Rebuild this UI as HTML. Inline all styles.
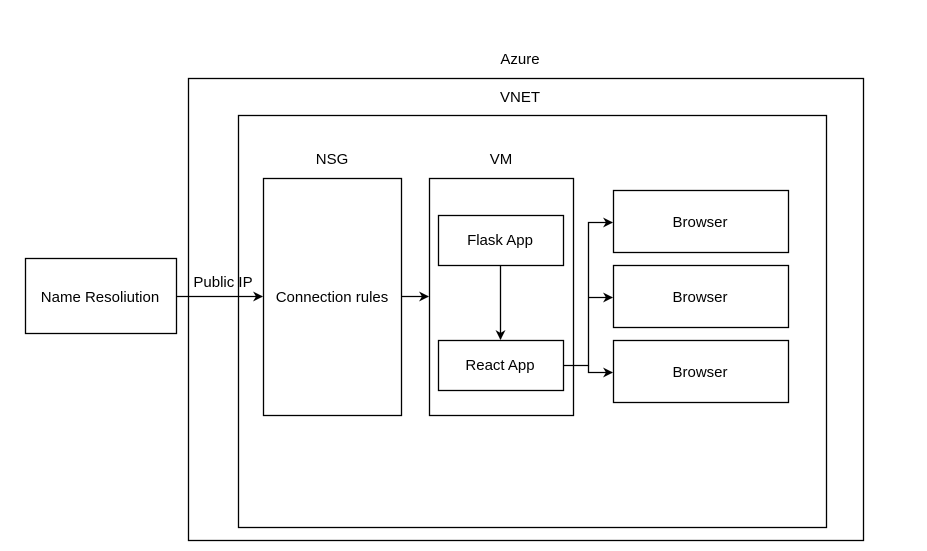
<!DOCTYPE html>
<html><head><style>body{margin:0;background:#fff}svg{display:block}text{font-family:"Liberation Sans",sans-serif;font-size:15px;fill:#000}</style></head><body>
<svg width="927" height="551" viewBox="0 0 927 551">
<defs><marker id="a" markerWidth="10" markerHeight="10" refX="9" refY="5" orient="auto" markerUnits="userSpaceOnUse"><path d="M0,0 L10,5 L0,10 L3,5 z" fill="#000"/></marker></defs>
<g fill="none" stroke="#000" stroke-width="1.3">
<rect x="188.5" y="78.5" width="675" height="462"/>
<rect x="238.5" y="115.5" width="588" height="412"/>
<rect x="263.5" y="178.5" width="138" height="237"/>
<rect x="429.5" y="178.5" width="144" height="237"/>
<rect x="438.5" y="215.5" width="125" height="50"/>
<rect x="438.5" y="340.5" width="125" height="50"/>
<rect x="613.5" y="190.5" width="175" height="62"/>
<rect x="613.5" y="265.5" width="175" height="62"/>
<rect x="613.5" y="340.5" width="175" height="62"/>
<rect x="25.5" y="258.5" width="151" height="75"/>
<path d="M176.5,296.5 H262" marker-end="url(#a)"/>
<path d="M401.5,296.5 H428" marker-end="url(#a)"/>
<path d="M500.5,265.5 V339" marker-end="url(#a)"/>
<path d="M563.5,365.5 H588.5 V222.5 H612" marker-end="url(#a)"/>
<path d="M588.5,297.5 H612" marker-end="url(#a)"/>
<path d="M588.5,365.5 V372.5 H612" marker-end="url(#a)"/>
</g>
<g text-anchor="middle">
<text x="520" y="64">Azure</text>
<text x="520" y="102">VNET</text>
<text x="332" y="164">NSG</text>
<text x="501" y="164">VM</text>
<text x="500" y="245">Flask App</text>
<text x="500" y="370">React App</text>
<text x="700" y="227">Browser</text>
<text x="700" y="302">Browser</text>
<text x="700" y="377">Browser</text>
<text x="100" y="302">Name Resoliution</text>
<text x="332" y="302">Connection rules</text>
<text x="223" y="287">Public IP</text>
</g>
</svg>
</body></html>
